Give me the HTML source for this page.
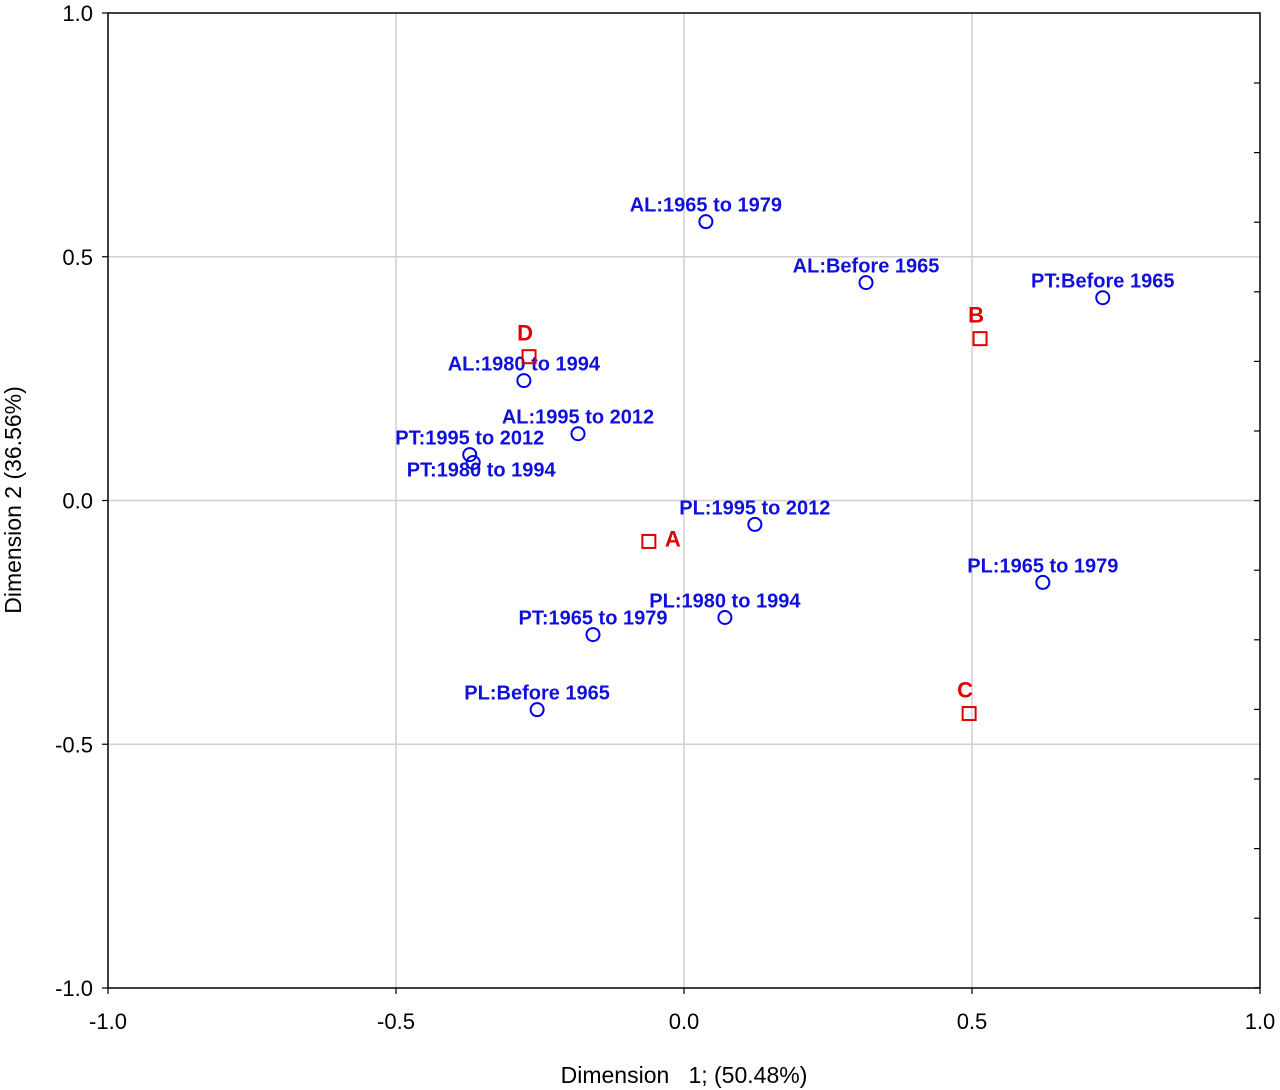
<!DOCTYPE html>
<html><head><meta charset="utf-8"><style>
html,body{margin:0;padding:0;background:#fff;}
svg{display:block;font-family:"Liberation Sans",Arial,sans-serif;}
</style></head><body>
<svg id="chart" width="1280" height="1090"></svg>
<script>
const pointLabels=["AL:1965 to 1979","AL:Before 1965","PT:Before 1965","AL:1980 to 1994","AL:1995 to 2012","PT:1995 to 2012","PT:1980 to 1994","PL:1995 to 2012","PL:1965 to 1979","PL:1980 to 1994","PT:1965 to 1979","PL:Before 1965"];
const pointX=[0.038,0.316,0.727,-0.278,-0.184,-0.372,-0.366,0.123,0.623,0.071,-0.158,-0.255];
const pointY=[0.572,0.447,0.416,0.246,0.137,0.094,0.078,-0.049,-0.168,-0.240,-0.275,-0.429];
const clusterLabels=["A","B","C","D"];
const clusterX=[-0.061,0.514,0.495,-0.269];
const clusterY=[-0.084,0.332,-0.437,0.295];
const xTicks=[-1.0,-0.5,0.0,0.5,1.0];
const yTicks=[1.0,0.5,0.0,-0.5,-1.0];
const tickText=["-1.0","-0.5","0.0","0.5","1.0"];

const L=108,R=1260,T=13,B=988;
const sx=v=>L+(v+1)/2*(R-L);
const sy=v=>B-(v+1)/2*(B-T);
const svg=document.getElementById('chart');
const NS='http://www.w3.org/2000/svg';
function mk(tag,attrs,parent){const e=document.createElementNS(NS,tag);for(const k in attrs)e.setAttribute(k,attrs[k]);(parent||svg).appendChild(e);return e;}

xTicks.forEach(v=>{if(v>-1&&v<1){const g=mk('line',{x1:sx(v),x2:sx(v),y1:T,y2:B,stroke:'#d0d0d0','stroke-width':1.5});}});
yTicks.forEach(v=>{if(v>-1&&v<1){const g=mk('line',{x1:L,x2:R,y1:sy(v),y2:sy(v),stroke:'#d0d0d0','stroke-width':1.5});}});
const fr=mk('rect',{x:L,y:T,width:R-L,height:B-T,fill:'none',stroke:'#000','stroke-width':1.5});


for(let y=83;y<B;y+=69.6){const t=mk('line',{x1:R-6,x2:R,y1:y,y2:y,stroke:'#000','stroke-width':1.2});}
xTicks.forEach((v,i)=>{mk('line',{x1:sx(v),x2:sx(v),y1:B,y2:B+6,stroke:'#000','stroke-width':1.2});
 const t=mk('text',{x:sx(v),y:B+41,'text-anchor':'middle','font-size':22,fill:'#000'});t.textContent=tickText[i];
 });
yTicks.forEach((v,i)=>{mk('line',{x1:L-6,x2:L,y1:sy(v),y2:sy(v),stroke:'#000','stroke-width':1.2});
 const t=mk('text',{x:93,y:sy(v)+8,'text-anchor':'end','font-size':22,fill:'#000'});t.textContent=tickText[4-i];
 });
const xt=mk('text',{x:684,y:1083,'text-anchor':'middle','font-size':23,fill:'#000',style:'white-space:pre'});xt.textContent='Dimension   1; (50.48%)';


const yt=mk('text',{x:0,y:0,'text-anchor':'middle','font-size':23,fill:'#000',transform:'translate(21,500) rotate(-90)'});yt.textContent='Dimension 2 (36.56%)';


pointX.forEach((v,i)=>{
 const c=mk('circle',{cx:sx(v),cy:sy(pointY[i]),r:6.5,fill:'none',stroke:'#0000ee','stroke-width':2});
 
 
 const below=pointLabels[i]==="PT:1980 to 1994";
 const t=mk('text',{x:sx(v)+(below?8:0),y:sy(pointY[i])+(below?14:-10),'text-anchor':'middle','font-size':20,'font-weight':'bold',fill:'#1010dd'});
 t.textContent=pointLabels[i];
 
 
});
clusterX.forEach((v,i)=>{
 const x=sx(v),y=sy(clusterY[i]);
 const s=mk('rect',{x:x-6.5,y:y-6.5,width:13,height:13,fill:'none',stroke:'#e00000','stroke-width':2});
 
 
 const right=clusterLabels[i]==="A";
 const t=mk('text',{x:right?x+24:x-4,y:right?y+5:y-16,'text-anchor':'middle','font-size':22,'font-weight':'bold',fill:'#e00000'});
 t.textContent=clusterLabels[i];
 
 
});
</script>
</body></html>
